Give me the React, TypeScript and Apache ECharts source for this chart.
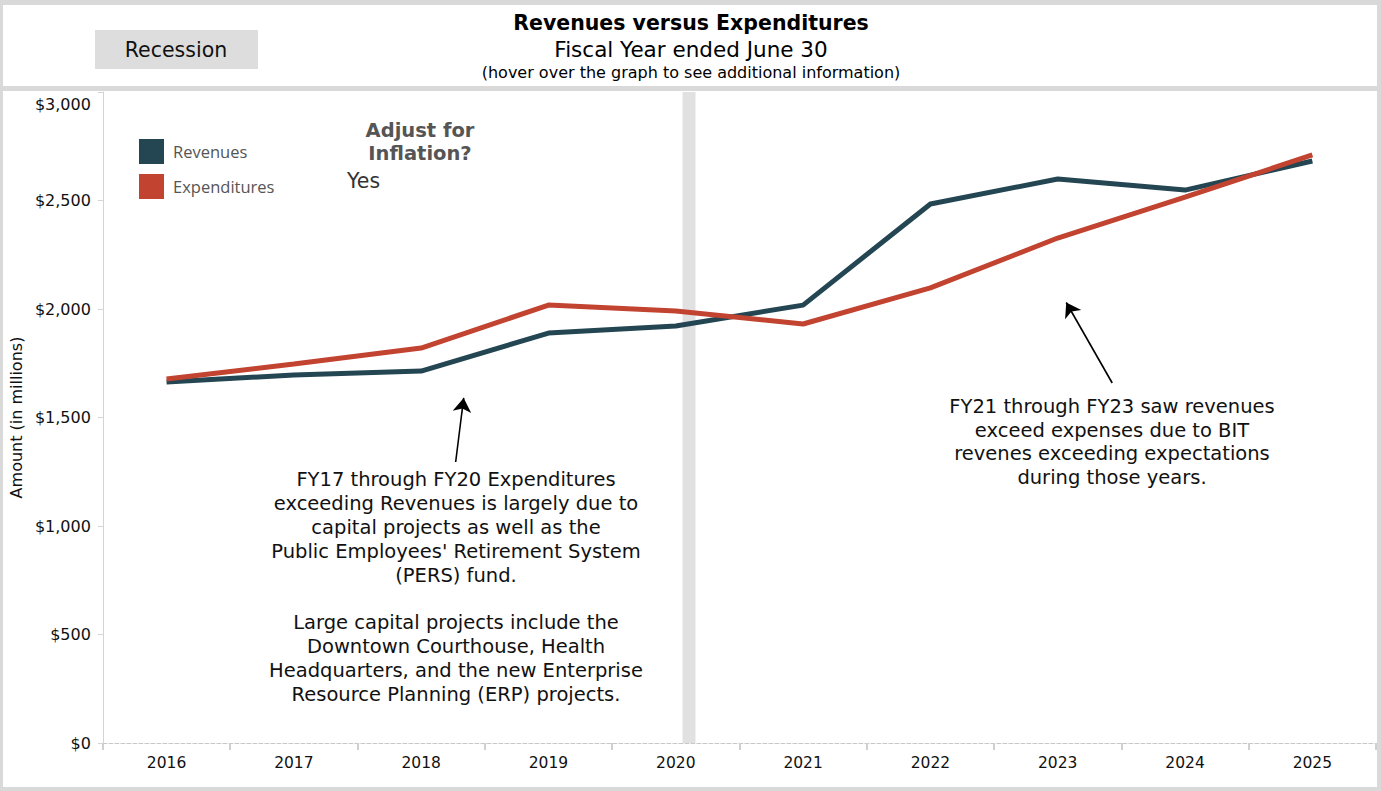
import React, { useEffect, useRef } from "react";
import * as echarts from "echarts";

const years = ["2016", "2017", "2018", "2019", "2020", "2021", "2022", "2023", "2024", "2025"];
const revenues = [1664, 1696, 1714, 1889, 1922, 2018, 2484, 2599, 2548, 2682];
const expenditures = [1677, 1747, 1820, 2018, 1991, 1931, 2097, 2327, 2516, 2710];
const yTicks = { min: 0, max: 3000, interval: 500 };
// recession band, in category-index units (0 = left edge of 2016 band)
const recession = [4.553, 4.655];
// annotation arrows: [tailX, tailY, headX, headY] in category-index units / $ millions
const arrows = [
  [2.771, 1295, 2.834, 1590],
  [7.928, 1659, 7.567, 2030],
];
const note1 = [
  "FY17 through FY20 Expenditures",
  "exceeding Revenues is largely due to",
  "capital projects as well as the",
  "Public Employees' Retirement System",
  "(PERS) fund.",
  "",
  "Large capital projects include the",
  "Downtown Courthouse, Health",
  "Headquarters, and the new Enterprise",
  "Resource Planning (ERP) projects.",
];
const note2 = [
  "FY21 through FY23 saw revenues",
  "exceed expenses due to BIT",
  "revenes exceeding expectations",
  "during those years.",
];

const FONT = "'DejaVu Sans', Verdana, sans-serif";
const GRAY = "#d9d9d9";

export default function App() {
  const ref = useRef<HTMLDivElement>(null);
  useEffect(() => {
    if (!ref.current) return;
    const chart = echarts.init(ref.current, null, { renderer: "svg" });
    const money = (v: number) => "$" + v.toLocaleString("en-US");
    chart.setOption({
      animation: false,
      backgroundColor: "#ffffff",
      textStyle: { fontFamily: FONT },
      grid: { left: 102, right: 5, top: 92, bottom: 48, containLabel: false },
      legend: {
        data: ["Revenues", "Expenditures"],
        orient: "vertical",
        left: 139,
        top: 139,
        padding: 0,
        icon: "rect",
        itemWidth: 25,
        itemHeight: 25,
        itemGap: 10,
        textStyle: { fontFamily: "'Open Sans', sans-serif", fontSize: 16.5, color: "#555555", padding: [0, 0, 0, 4] },
      },
      xAxis: [
        {
          type: "category",
          data: years,
          boundaryGap: true,
          axisLine: { show: true, lineStyle: { color: "#c8c8c8", type: "dashed", width: 1 } },
          axisTick: { show: true, length: 7, lineStyle: { color: "#d0d0d0", width: 2 } },
          axisLabel: { color: "#111111", fontSize: 15.5, fontFamily: FONT, margin: 12 },
          splitLine: { show: false },
        },
        { type: "value", min: 0, max: 10, show: false },
      ],
      yAxis: {
        type: "value",
        min: yTicks.min,
        max: yTicks.max,
        interval: yTicks.interval,
        name: "Amount (in millions)",
        nameLocation: "middle",
        nameRotate: 90,
        nameGap: 77,
        nameTextStyle: { fontSize: 16, color: "#111111", fontFamily: FONT },
        axisLine: { show: true, lineStyle: { color: "#d4d4d4", width: 1 } },
        axisTick: { show: true, length: 5, lineStyle: { color: "#d4d4d4" } },
        axisLabel: {
          color: "#111111",
          fontSize: 16,
          fontFamily: FONT,
          margin: 12,
          formatter: (v: number) => (v === yTicks.max ? "{t|" + money(v) + "}" : money(v)),
          rich: { t: { padding: [24, 0, 0, 0], fontSize: 16, color: "#111111", fontFamily: FONT } },
        },
        splitLine: { show: false },
      },
      series: [
        {
          name: "Revenues",
          type: "line",
          data: revenues,
          symbol: "none",
          color: "#244653",
          lineStyle: { width: 5, color: "#244653" },
          z: 2,
        },
        {
          name: "Expenditures",
          type: "line",
          data: expenditures,
          symbol: "none",
          color: "#c14330",
          lineStyle: { width: 5, color: "#c14330" },
          z: 3,
        },
        {
          type: "line",
          xAxisIndex: 1,
          data: [],
          z: 5,
          silent: true,
          markArea: {
            silent: true,
            itemStyle: { color: "rgba(220,220,220,0.85)" },
            data: [[{ xAxis: recession[0], yAxis: yTicks.min }, { xAxis: recession[1], yAxis: yTicks.max }]],
          },
          markLine: {
            silent: true,
            symbol: ["none", "arrow"],
            symbolSize: 14,
            label: { show: false },
            lineStyle: { color: "#000000", width: 1.6, type: "solid" },
            data: arrows.map((a) => [{ coord: [a[0], a[1]] }, { coord: [a[2], a[3]] }]),
          },
        },
      ],
      graphic: [
        { type: "rect", left: 0, top: 0, shape: { width: 1381, height: 5 }, style: { fill: GRAY }, silent: true },
        { type: "rect", left: 0, top: 0, shape: { width: 3, height: 791 }, style: { fill: GRAY }, silent: true },
        { type: "rect", left: 1377, top: 0, shape: { width: 4, height: 791 }, style: { fill: GRAY }, silent: true },
        { type: "rect", left: 0, top: 787, shape: { width: 1381, height: 4 }, style: { fill: GRAY }, silent: true },
        { type: "rect", left: 0, top: 86, shape: { width: 1381, height: 5 }, style: { fill: GRAY }, silent: true },
        { type: "rect", left: 95, top: 30, shape: { width: 163, height: 39 }, style: { fill: "#dddddd" }, silent: true },
        {
          type: "text",
          x: 176,
          y: 50,
          style: { text: "Recession", fontSize: 20.5, fontFamily: FONT, fill: "#111111", align: "center", verticalAlign: "middle" },
        },
        {
          type: "text",
          x: 691,
          y: 23,
          style: { text: "Revenues versus Expenditures", fontSize: 20.5, fontWeight: "bold", fontFamily: FONT, fill: "#000000", align: "center", verticalAlign: "middle" },
        },
        {
          type: "text",
          x: 691,
          y: 49,
          style: { text: "Fiscal Year ended June 30", fontSize: 21.5, fontFamily: FONT, fill: "#000000", align: "center", verticalAlign: "middle" },
        },
        {
          type: "text",
          x: 691,
          y: 72,
          style: { text: "(hover over the graph to see additional information)", fontSize: 16, fontFamily: FONT, fill: "#000000", align: "center", verticalAlign: "middle" },
        },
        {
          type: "text",
          x: 420,
          y: 142,
          style: { text: "Adjust for\nInflation?", fontSize: 19.5, lineHeight: 23, fontWeight: "bold", fontFamily: FONT, fill: "#555555", align: "center", verticalAlign: "middle" },
        },
        {
          type: "text",
          x: 347,
          y: 181,
          style: { text: "Yes", fontSize: 20.5, fontFamily: FONT, fill: "#333333", align: "left", verticalAlign: "middle" },
        },
        {
          type: "text",
          x: 456,
          y: 587,
          style: { text: note1.join("\n"), fontSize: 19.5, lineHeight: 23.9, fontFamily: FONT, fill: "#111111", align: "center", verticalAlign: "middle" },
        },
        {
          type: "text",
          x: 1112,
          y: 442,
          style: { text: note2.join("\n"), fontSize: 19.5, lineHeight: 23.5, fontFamily: FONT, fill: "#111111", align: "center", verticalAlign: "middle" },
        },
      ],
    });
    return () => chart.dispose();
  }, []);
  return <div ref={ref} style={{ position: "fixed", left: 0, top: 0, width: 1381, height: 791 }} />;
}
